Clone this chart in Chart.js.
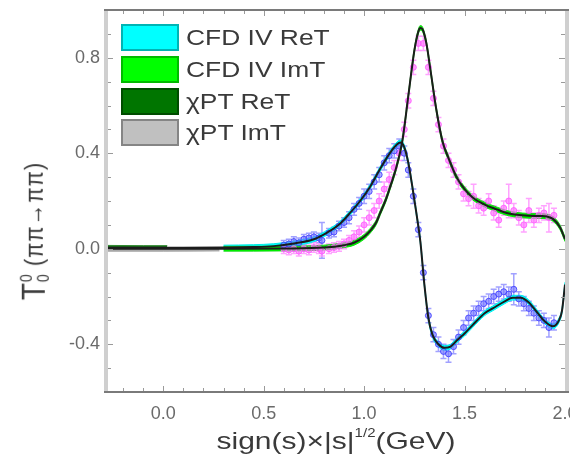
<!DOCTYPE html>
<html>
<head>
<meta charset="utf-8">
<script src="https://cdn.jsdelivr.net/npm/chart.js@4.4.0/dist/chart.umd.min.js"></script>
<style>
  body { margin: 0; background: #fff; }
  #wrap { position: relative; width: 570px; height: 466px; font-family: "Liberation Sans", Arial, sans-serif; color: #333; }
  canvas { position: absolute; left: 0; top: 0; }
  .box { position: absolute; left: 121px; width: 58px; height: 27px; box-sizing: border-box; border: 2px solid; }
  .lt { position: absolute; left: 186px; height: 27px; font-size: 22px; line-height: 27px; white-space: nowrap; color: #3a3a3a;
        transform: scaleX(1.2); transform-origin: left center; }
  #xtitle { position: absolute; left: 336px; top: 440px; font-size: 24px; white-space: nowrap; color: #3a3a3a;
            transform: translate(-50%, -50%) scaleX(1.25); }
  #xtitle sup { font-size: 12px; vertical-align: 12px; }
  #ytitle { position: absolute; left: 34px; top: 231px; white-space: nowrap; color: #3a3a3a;
            transform: translate(-50%, -50%) rotate(-90deg) scaleY(1.2); }
  #ytitle .T { font-size: 28px; vertical-align: middle; }
  #ytitle .ss { display: inline-block; vertical-align: middle; font-size: 14px; line-height: 14px; margin-left: 1px; }
  #ytitle .ss span { display: block; }
  #ytitle .p { font-size: 22px; letter-spacing: 1px; vertical-align: middle; margin-left: 8px; }
</style>
</head>
<body>
<div id="wrap">
  <canvas id="graphe" width="570" height="466"></canvas>

  <div class="box" style="top:24px;background:#00ffff;border-color:#00b4b4;"></div>
  <div class="lt" style="top:24px;">CFD IV ReT</div>
  <div class="box" style="top:56px;background:#00ff00;border-color:#00bb00;"></div>
  <div class="lt" style="top:56px;">CFD IV ImT</div>
  <div class="box" style="top:88px;background:#007500;border-color:#004c00;"></div>
  <div class="lt" style="top:88px;">χPT ReT</div>
  <div class="box" style="top:119px;background:#c0c0c0;border-color:#858585;"></div>
  <div class="lt" style="top:119px;">χPT ImT</div>

  <div id="xtitle">sign(s)×|s|<sup>1/2</sup>(GeV)</div>
  <div id="ytitle"><span class="T">T</span><span class="ss"><span>0</span><span>0</span></span><span class="p">(ππ→ππ)</span></div>
</div>
<script>
// Courbes CFD IV (valeur centrale)
const reCurveX = [-0.28,-0.1,0.1,0.3,0.45,0.55,0.65,0.75,0.82,0.88,0.93,0.98,1.03,1.08,1.12,1.15,1.18,1.20,1.22,1.24,1.26,1.28,1.30,1.32,1.34,1.37,1.40,1.43,1.46,1.50,1.54,1.60,1.64,1.70,1.74,1.78,1.82,1.86,1.90,1.94,1.97,1.985,2.0]
const reCurveY = [0.004,0.004,0.004,0.005,0.007,0.011,0.022,0.04,0.07,0.105,0.15,0.20,0.26,0.335,0.39,0.425,0.445,0.425,0.36,0.26,0.15,0.03,-0.15,-0.29,-0.36,-0.40,-0.415,-0.41,-0.385,-0.355,-0.32,-0.27,-0.25,-0.22,-0.205,-0.205,-0.225,-0.265,-0.305,-0.325,-0.30,-0.26,-0.15]
const imCurveX = [-0.28,0.0,0.3,0.6,0.8,0.9,0.95,1.0,1.03,1.06,1.08,1.11,1.13,1.16,1.19,1.22,1.25,1.27,1.28,1.29,1.31,1.33,1.36,1.39,1.42,1.46,1.50,1.54,1.60,1.66,1.71,1.76,1.82,1.88,1.91,1.94,1.975,2.0]
const imCurveY = [0.0,0.0,0.0,0.001,0.005,0.015,0.025,0.05,0.075,0.11,0.15,0.21,0.26,0.34,0.45,0.64,0.83,0.91,0.925,0.92,0.86,0.75,0.58,0.45,0.38,0.30,0.25,0.215,0.185,0.165,0.15,0.142,0.138,0.137,0.135,0.125,0.09,0.04]
const cfdStart = 0.28   // les bandes CFD ne sont visibles qu'à partir d'ici
const cfdErr = 0.01

// Bandes chPT basse énergie
const chptReX = [-0.28, -0.1, 0.02]
const chptReY = [0.008, 0.007, 0.007]
const chptImX = [-0.28, 0.0, 0.28]
const chptImY = [-0.004, -0.004, -0.003]
const chptErr = 0.006

// Données expérimentales
const dataX = [0.60,0.625,0.65,0.675,0.70,0.725,0.75,0.775,0.79,0.825,0.85,0.875,0.90,0.925,0.95,0.975,1.00,1.025,1.05,1.075,1.10,1.125,1.15,1.175,1.20,1.22,1.245,1.27,1.295,1.32,1.345,1.37,1.395,1.42,1.445,1.47,1.495,1.52,1.545,1.57,1.595,1.62,1.645,1.67,1.695,1.72,1.745,1.77,1.795,1.82,1.845,1.87,1.895,1.92,1.945]
const reDataY = [0.015,0.02,0.03,0.025,0.04,0.045,0.05,0.045,0.035,0.065,0.07,0.095,0.11,0.13,0.165,0.19,0.22,0.24,0.28,0.31,0.36,0.39,0.41,0.43,0.40,0.33,0.22,0.08,-0.10,-0.28,-0.36,-0.40,-0.43,-0.44,-0.41,-0.37,-0.33,-0.29,-0.27,-0.25,-0.23,-0.22,-0.20,-0.19,-0.18,-0.19,-0.17,-0.21,-0.23,-0.25,-0.27,-0.29,-0.30,-0.33,-0.31]
const reDataErr = [0.02,0.02,0.02,0.02,0.02,0.02,0.02,0.02,0.075,0.02,0.02,0.02,0.02,0.025,0.025,0.025,0.03,0.03,0.03,0.03,0.03,0.03,0.03,0.03,0.03,0.03,0.03,0.03,0.03,0.03,0.03,0.03,0.03,0.035,0.03,0.03,0.03,0.03,0.03,0.03,0.03,0.03,0.03,0.03,0.03,0.03,0.065,0.03,0.03,0.03,0.03,0.03,0.03,0.04,0.03]
const imDataY = [0.0,-0.005,0.0,-0.01,0.0,-0.005,0.005,0.0,-0.01,0.0,0.005,0.01,0.02,0.035,0.05,0.07,0.10,0.13,0.16,0.20,0.25,0.29,0.34,0.40,0.50,0.62,0.76,0.86,0.86,0.76,0.63,0.52,0.43,0.37,0.33,0.28,0.23,0.21,0.22,0.18,0.17,0.20,0.15,0.12,0.17,0.20,0.16,0.13,0.10,0.16,0.12,0.14,0.15,0.13,0.14]
const imDataErr = [0.02,0.02,0.02,0.02,0.02,0.02,0.02,0.02,0.02,0.02,0.02,0.02,0.02,0.02,0.025,0.025,0.03,0.03,0.03,0.03,0.03,0.03,0.03,0.03,0.03,0.03,0.03,0.03,0.03,0.03,0.03,0.03,0.03,0.03,0.03,0.03,0.03,0.03,0.05,0.03,0.03,0.03,0.03,0.03,0.03,0.07,0.03,0.03,0.03,0.05,0.03,0.03,0.03,0.06,0.03]

// Graduations
const xTickValues = [-0.2,-0.1,0.0,0.1,0.2,0.3,0.4,0.5,0.6,0.7,0.8,0.9,1.0,1.1,1.2,1.3,1.4,1.5,1.6,1.7,1.8,1.9,2.0]
const xTickLabels = [0.0, 0.5, 1.0, 1.5, 2.0]
const yTickValues = [-0.6,-0.5,-0.4,-0.3,-0.2,-0.1,0.0,0.1,0.2,0.3,0.4,0.5,0.6,0.7,0.8,0.9,1.0]
const yTickLabels = [-0.4, 0.0, 0.4, 0.8]

const pts = (xs, ys, d) => xs.map((x, i) => ({ x: x, y: ys[i] + (d || 0) }))
const isLabel = (list, v) => list.some(l => Math.abs(l - v) < 1e-6)

// portion d'une courbe à partir de x0
function from(xs, ys, x0) {
    const idx = xs.map((x, i) => i).filter(i => xs[i] >= x0)
    return [idx.map(i => xs[i]), idx.map(i => ys[i])]
}

function band(xs, ys, err, color, border) {
    return [
        { data: pts(xs, ys, err), showLine: true, pointRadius: 0, borderColor: border, borderWidth: 1,
          backgroundColor: color, fill: '+1', cubicInterpolationMode: 'monotone' },
        { data: pts(xs, ys, -err), showLine: true, pointRadius: 0, borderColor: border, borderWidth: 1,
          fill: false, cubicInterpolationMode: 'monotone' }
    ]
}

// Barres d'erreur dessinées avec les échelles du graphique
const errorBars = {
    id: 'errorBars',
    beforeDatasetsDraw(chart) {
        const c = chart.ctx, xs = chart.scales.x, ys = chart.scales.y
        chart.data.datasets.forEach(ds => {
            if (!ds.errors) return
            c.save()
            c.strokeStyle = ds.errorColor
            c.lineWidth = 1.5
            ds.data.forEach((p, i) => {
                const px = xs.getPixelForValue(p.x)
                const y1 = ys.getPixelForValue(p.y + ds.errors[i])
                const y2 = ys.getPixelForValue(p.y - ds.errors[i])
                c.beginPath()
                c.moveTo(px, y1); c.lineTo(px, y2)
                c.moveTo(px - 3, y1); c.lineTo(px + 3, y1)
                c.moveTo(px - 3, y2); c.lineTo(px + 3, y2)
                c.stroke()
            })
            c.restore()
        })
    }
}

// Cadre et graduations intérieures
const cadre = {
    id: 'cadre',
    afterDraw(chart) {
        const c = chart.ctx, a = chart.chartArea, xs = chart.scales.x, ys = chart.scales.y
        c.save()
        c.strokeStyle = '#9a9a9a'
        c.lineWidth = 1
        xs.ticks.forEach(t => {
            const px = Math.round(xs.getPixelForValue(t.value)) + 0.5
            const l = isLabel(xTickLabels, t.value) ? 6 : 4
            c.beginPath()
            c.moveTo(px, a.bottom); c.lineTo(px, a.bottom - l)
            c.moveTo(px, a.top); c.lineTo(px, a.top + l)
            c.stroke()
        })
        ys.ticks.forEach(t => {
            const py = Math.round(ys.getPixelForValue(t.value)) + 0.5
            const l = isLabel(yTickLabels, t.value) ? 6 : 4
            c.beginPath()
            c.moveTo(a.left, py); c.lineTo(a.left + l, py)
            c.moveTo(a.right, py); c.lineTo(a.right - l, py)
            c.stroke()
        })
        c.lineWidth = 4
        c.strokeStyle = '#cfcfcf'
        c.beginPath()
        c.moveTo(a.left - 1, a.top); c.lineTo(a.left - 1, a.bottom)
        c.moveTo(a.right + 2, a.top); c.lineTo(a.right + 2, a.bottom)
        c.stroke()
        c.lineWidth = 2
        c.strokeStyle = '#7a7a7a'
        c.beginPath()
        c.moveTo(a.left - 3, a.top); c.lineTo(a.right + 4, a.top)
        c.moveTo(a.left - 3, a.bottom); c.lineTo(a.right + 4, a.bottom)
        c.stroke()
        c.restore()
    }
}

const [reBandX, reBandY] = from(reCurveX, reCurveY, cfdStart)
const [imBandX, imBandY] = from(imCurveX, imCurveY, cfdStart)

const ctx = document.getElementById('graphe').getContext('2d')
const config = {
    type: 'scatter',
    data: {
        datasets: [
            { data: pts(reCurveX, reCurveY), showLine: true, pointRadius: 0, borderColor: '#1c1c1c', borderWidth: 2, cubicInterpolationMode: 'monotone' },
            { data: pts(imCurveX, imCurveY), showLine: true, pointRadius: 0, borderColor: '#1c1c1c', borderWidth: 2, cubicInterpolationMode: 'monotone' },
            { data: pts(dataX, reDataY), errors: reDataErr, errorColor: 'rgba(130,130,255,0.75)', pointRadius: 3,
              backgroundColor: 'rgba(110,110,255,0.6)', borderColor: 'rgba(60,60,255,0.85)', borderWidth: 1 },
            { data: pts(dataX, imDataY), errors: imDataErr, errorColor: 'rgba(255,140,255,0.8)', pointRadius: 3,
              backgroundColor: 'rgba(255,110,255,0.65)', borderColor: 'rgba(255,90,255,0.85)', borderWidth: 1 },
            ...band(chptReX, chptReY, chptErr, '#1a6e1a', '#2f8a2f'),
            ...band(chptImX, chptImY, chptErr, '#a8a8a8', '#9a9a9a'),
            ...band(imBandX, imBandY, cfdErr, '#00ee00', '#22cc22'),
            ...band(reBandX, reBandY, cfdErr, '#00ffff', '#00e8e8')
        ]
    },
    plugins: [errorBars, cadre],
    options: {
        responsive: false,
        animation: false,
        devicePixelRatio: 1,
        layout: { padding: { top: 10, right: 5, left: 0, bottom: 0 } },
        plugins: { legend: { display: false }, tooltip: { enabled: false } },
        scales: {
            x: {
                type: 'linear', min: -0.28, max: 2.0,
                grid: { display: false, drawTicks: false },
                border: { display: false },
                afterBuildTicks: s => { s.ticks = xTickValues.map(v => ({ value: v })) },
                afterFit: s => { s.height = 74; s.paddingLeft = 0; s.paddingRight = 0 },
                ticks: {
                    autoSkip: false, maxRotation: 0, padding: 11, color: '#6a6a6a',
                    font: { family: 'Liberation Sans', size: 18 },
                    callback: v => isLabel(xTickLabels, v) ? v.toFixed(1) : ''
                }
            },
            y: {
                type: 'linear', min: -0.6, max: 1.0,
                grid: { display: false, drawTicks: false },
                border: { display: false },
                afterBuildTicks: s => { s.ticks = yTickValues.map(v => ({ value: v })) },
                afterFit: s => { s.width = 107; s.paddingTop = 0; s.paddingBottom = 0 },
                ticks: {
                    autoSkip: false, padding: 7, color: '#6a6a6a',
                    font: { family: 'Liberation Sans', size: 18 },
                    callback: v => isLabel(yTickLabels, v) ? (Math.abs(v) < 1e-9 ? '0.0' : v.toFixed(1)) : ''
                }
            }
        }
    }
}
const graphe = new Chart(ctx, config)
</script>
</body>
</html>
